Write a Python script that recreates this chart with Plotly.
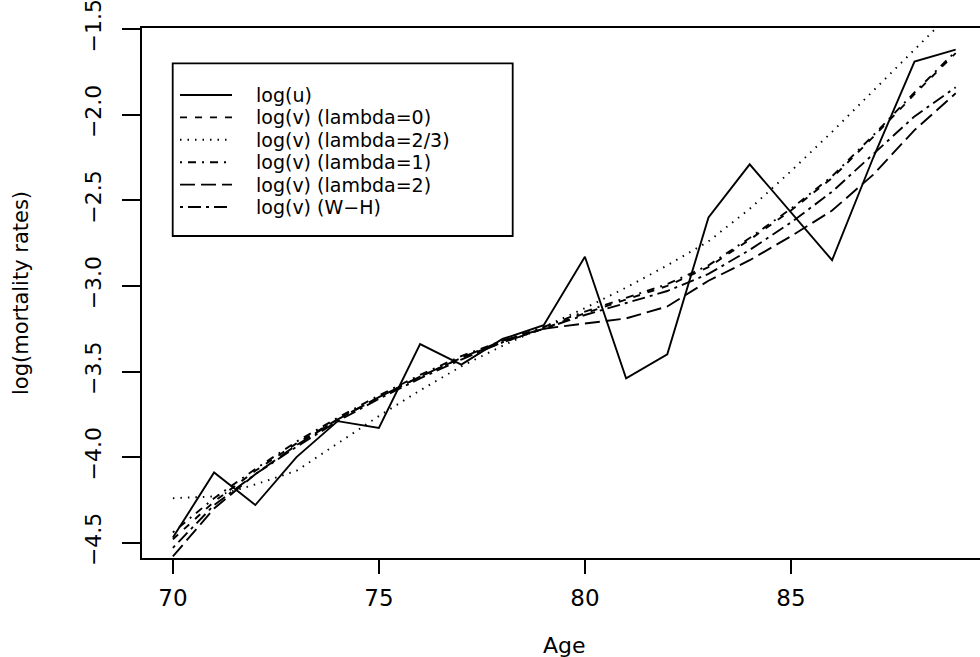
import plotly.graph_objects as go

ages = list(range(70, 90))

log_u = [-4.47, -4.09, -4.28, -4.00, -3.79, -3.83, -3.34, -3.46, -3.31, -3.23,
         -2.83, -3.54, -3.40, -2.60, -2.29, -2.57, -2.85, -2.25, -1.69, -1.62]
lam0 = [-4.48, -4.26, -4.08, -3.92, -3.78, -3.65, -3.53, -3.42, -3.33, -3.25,
        -3.16, -3.08, -3.00, -2.89, -2.73, -2.56, -2.37, -2.13, -1.88, -1.64]
lam23 = [-4.24, -4.23, -4.16, -4.08, -3.92, -3.76, -3.61, -3.47, -3.35, -3.24,
         -3.13, -3.01, -2.88, -2.74, -2.55, -2.33, -2.10, -1.86, -1.62, -1.38]
lam1 = [-4.44, -4.24, -4.07, -3.91, -3.77, -3.64, -3.52, -3.41, -3.32, -3.24,
        -3.15, -3.07, -2.99, -2.88, -2.72, -2.55, -2.36, -2.12, -1.87, -1.63]
lam2 = [-4.58, -4.30, -4.10, -3.93, -3.78, -3.65, -3.53, -3.42, -3.32, -3.25,
        -3.22, -3.19, -3.12, -2.97, -2.85, -2.71, -2.56, -2.35, -2.09, -1.875]
wh = [-4.53, -4.28, -4.10, -3.94, -3.79, -3.66, -3.54, -3.43, -3.33, -3.25,
      -3.17, -3.10, -3.03, -2.93, -2.79, -2.63, -2.45, -2.23, -2.01, -1.84]

series_names = ["log(u)", "log(v) (lambda=0)", "log(v) (lambda=2/3)",
                "log(v) (lambda=1)", "log(v) (lambda=2)", "log(v) (W\u2212H)"]
series_values = [log_u, lam0, lam23, lam1, lam2, wh]
dashes = ["solid", "7px,8px", "1.5px,6px", "2px,6px,8px,6px", "15px,6px", "3px,5px,13px,5px"]

x_ticks = [70, 75, 80, 85]
y_ticks = [-4.5, -4.0, -3.5, -3.0, -2.5, -2.0, -1.5]
y_tick_text = ["\u22124.5", "\u22124.0", "\u22123.5", "\u22123.0", "\u22122.5", "\u22122.0", "\u22121.5"]

W, H = 980, 657
L, T, B = 142, 28, 99
PW, PH = W - L, H - T - B

FONT = "DejaVu Sans, Liberation Sans, Arial, sans-serif"
LW = 1.9
ALW = 1.8

fig = go.Figure()
for name, vals, dash in zip(series_names, series_values, dashes):
    fig.add_trace(go.Scatter(x=ages, y=vals, mode="lines", name=name,
                             line=dict(color="black", width=LW, dash=dash),
                             showlegend=False))


def fx(px):
    return (px - L) / PW


def fy(py):
    return (H - B - py) / PH


shapes = []
annotations = []
# legend box
shapes.append(dict(type="rect", xref="paper", yref="paper",
                   x0=fx(172.7), x1=fx(512.7), y0=fy(63.3), y1=fy(236),
                   line=dict(color="black", width=ALW), fillcolor="white", layer="below"))
for i, (name, dash) in enumerate(zip(series_names, dashes)):
    yy = 95 + i * 22.4
    shapes.append(dict(type="line", xref="paper", yref="paper",
                       x0=fx(180), x1=fx(232), y0=fy(yy), y1=fy(yy),
                       line=dict(color="black", width=LW, dash=dash)))
    annotations.append(dict(xref="paper", yref="paper", x=fx(254), y=fy(yy),
                            text=name, showarrow=False, xanchor="left", yanchor="middle",
                            font=dict(family=FONT, size=19, color="black")))

# axis titles
annotations.append(dict(xref="paper", yref="paper", x=fx(564), y=fy(645), text="Age",
                        showarrow=False, xanchor="center", yanchor="middle",
                        font=dict(family=FONT, size=22, color="black")))
annotations.append(dict(xref="paper", yref="paper", x=fx(21), y=fy(293), text="log(mortality rates)",
                        showarrow=False, xanchor="center", yanchor="middle", textangle=-90,
                        font=dict(family=FONT, size=21, color="black")))

fig.update_layout(
    width=W, height=H,
    margin=dict(l=L, r=0, t=T, b=B, pad=0),
    paper_bgcolor="white", plot_bgcolor="white",
    shapes=shapes, annotations=annotations,
    showlegend=False,
    xaxis=dict(range=[69.25, 89.59], tickvals=x_ticks, ticks="outside", ticklen=14,
               tickwidth=ALW, tickcolor="black", showline=True, linecolor="black",
               linewidth=ALW, mirror=True, showgrid=False, zeroline=False,
               tickfont=dict(family=FONT, size=23, color="black"), ticklabelstandoff=4),
    yaxis=dict(range=[-4.5894, -1.4936], tickvals=y_ticks, ticktext=y_tick_text,
               ticks="outside", ticklen=18, tickwidth=ALW, tickcolor="black",
               showline=True, linecolor="black", linewidth=ALW, mirror=False,
               showgrid=False, zeroline=False, tickangle=-90, ticklabeloverflow="allow",
               tickfont=dict(family=FONT, size=22, color="black"), ticklabelstandoff=12),
)

fig.write_html("out.html")
